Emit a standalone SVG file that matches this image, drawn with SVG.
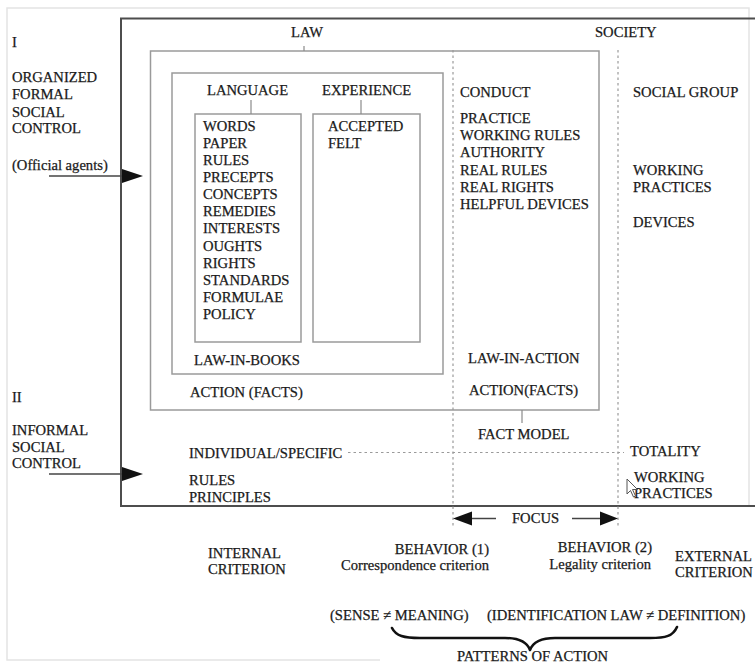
<svg xmlns="http://www.w3.org/2000/svg" width="755" height="664" viewBox="0 0 755 664">
  <defs>
    <style>
      text { font-family: "Liberation Serif", "Times New Roman", serif; font-size: 14.6px; fill: #1a1a1a; stroke: #1a1a1a; stroke-width: 0.25; }
      .mid { text-anchor: middle; }
      .end { text-anchor: end; }
      .frame { fill: none; stroke: #e4e4e4; stroke-width: 1.5; }
      .main { fill: none; stroke: #4d4d4d; stroke-width: 2; }
      .box { fill: none; stroke: #9a9a9a; stroke-width: 1.5; }
      .tick { stroke: #8a8a8a; stroke-width: 1.2; }
      .dot { fill: none; stroke: #9a9a9a; stroke-width: 1.2; stroke-dasharray: 2.5 3; }
      .line { stroke: #444; stroke-width: 1.5; }
      .head { fill: #111; }
    </style>
  </defs>

  <rect width="755" height="664" fill="#fff"/>

  <!-- page border -->
  <path class="frame" d="M749,505 V8 H7 V660 H380"/>

  <!-- social control frame -->
  <g id="control-frame">
    <path class="main" d="M755,18.5 H121 V506 H755"/>
  </g>

  <!-- LAW box -->
  <g id="law">
    <text class="mid" x="307" y="37">LAW</text>
    <rect class="box" x="150.5" y="51" width="448.5" height="359"/>
    <text x="190" y="397">ACTION (FACTS)</text>
  </g>

  <!-- law in books -->
  <g id="law-in-books">
    <rect class="box" x="172" y="73" width="271" height="301"/>
    <text x="194" y="365">LAW-IN-BOOKS</text>
  </g>

  <g id="language">
    <text x="207" y="95">LANGUAGE</text>
    <rect class="box" x="195" y="114" width="106" height="228"/>
    <text x="203" y="131">WORDS</text>
    <text x="203" y="148">PAPER</text>
    <text x="203" y="165">RULES</text>
    <text x="203" y="182">PRECEPTS</text>
    <text x="203" y="199">CONCEPTS</text>
    <text x="203" y="216">REMEDIES</text>
    <text x="203" y="233">INTERESTS</text>
    <text x="203" y="250.5">OUGHTS</text>
    <text x="203" y="267.5">RIGHTS</text>
    <text x="203" y="284.5">STANDARDS</text>
    <text x="203" y="301.5">FORMULAE</text>
    <text x="203" y="318.5">POLICY</text>
  </g>

  <g id="experience">
    <text x="322" y="95">EXPERIENCE</text>
    <rect class="box" x="313" y="114" width="107" height="228"/>
    <text x="328" y="131">ACCEPTED</text>
    <text x="328" y="148">FELT</text>
  </g>

  <!-- law in action column -->
  <g id="conduct">
    <text x="460" y="97">CONDUCT</text>
    <text x="460" y="123">PRACTICE</text>
    <text x="460" y="140">WORKING RULES</text>
    <text x="460" y="157">AUTHORITY</text>
    <text x="460" y="175">REAL RULES</text>
    <text x="460" y="192">REAL RIGHTS</text>
    <text x="460" y="209">HELPFUL DEVICES</text>
    <text x="468" y="363">LAW-IN-ACTION</text>
    <text x="469" y="395">ACTION(FACTS)</text>
    <text x="478" y="439">FACT MODEL</text>
  </g>

  <!-- society column -->
  <g id="society">
    <text x="595" y="37">SOCIETY</text>
    <text x="633" y="97">SOCIAL GROUP</text>
    <text x="633" y="175">WORKING</text>
    <text x="633" y="192">PRACTICES</text>
    <text x="633" y="227">DEVICES</text>
    <text x="630" y="456">TOTALITY</text>
    <text x="634" y="482">WORKING</text>
    <text x="634" y="498">PRACTICES</text>
  </g>

  <!-- informal level -->
  <g id="informal">
    <text x="189" y="458">INDIVIDUAL/SPECIFIC</text>
    <text x="189" y="485">RULES</text>
    <text x="189" y="502">PRINCIPLES</text>
  </g>

  <!-- left side labels -->
  <g id="formal-control">
    <text x="12" y="47">I</text>
    <text x="12" y="82">ORGANIZED</text>
    <text x="12" y="99">FORMAL</text>
    <text x="12" y="117">SOCIAL</text>
    <text x="12" y="133">CONTROL</text>
    <text x="12" y="170">(Official agents)</text>
  </g>
  <g id="informal-control">
    <text x="12" y="402">II</text>
    <text x="12" y="435">INFORMAL</text>
    <text x="12" y="452">SOCIAL</text>
    <text x="12" y="468">CONTROL</text>
  </g>

  <!-- criteria below the frame -->
  <g id="criteria">
    <text x="208" y="558">INTERNAL</text>
    <text x="208" y="574">CRITERION</text>
    <text class="end" x="489" y="554">BEHAVIOR (1)</text>
    <text class="end" x="489" y="570">Correspondence criterion</text>
    <text class="end" x="652" y="552">BEHAVIOR (2)</text>
    <text class="end" x="651" y="569">Legality criterion</text>
    <text x="675" y="561">EXTERNAL</text>
    <text x="675" y="577">CRITERION</text>
    <text x="330" y="620">(SENSE ≠ MEANING)</text>
    <text x="487" y="620">(IDENTIFICATION LAW ≠ DEFINITION)</text>
    <text x="457" y="661">PATTERNS OF ACTION</text>
    <text x="512" y="523">FOCUS</text>
  </g>

  <!-- connectors -->
  <g id="connectors">
    <!-- label ticks -->
    <line class="tick" x1="304" y1="46" x2="304" y2="51"/>
    <line class="tick" x1="251" y1="100" x2="251" y2="114"/>
    <line class="tick" x1="361" y1="100" x2="361" y2="114"/>
    <line class="tick" x1="522" y1="410" x2="522" y2="423"/>

    <!-- dotted column dividers -->
    <line class="dot" x1="453" y1="50" x2="453" y2="528"/>
    <line class="dot" x1="618" y1="50" x2="618" y2="528"/>
    <line class="dot" x1="348" y1="452.5" x2="624" y2="452.5"/>

    <!-- control arrows -->
    <line class="line" x1="49" y1="176" x2="124" y2="176"/>
    <polygon class="head" points="122,169 143,176 122,183"/>
    <line class="line" x1="49" y1="474" x2="124" y2="474"/>
    <polygon class="head" points="122,467 143,474 122,481"/>

    <!-- focus arrows -->
    <line class="line" x1="470" y1="518.5" x2="496" y2="518.5"/>
    <polygon class="head" points="453,518.5 472,511.5 472,525.5"/>
    <line class="line" x1="572" y1="518.5" x2="602" y2="518.5"/>
    <polygon class="head" points="618,518.5 600,511.5 600,525.5"/>

    <!-- brace -->
    <path d="M392,628 C396,636 404,638 420,638 L505,638 C520,638 527,642 530,650 C533,642 540,638 555,638 L650,638 C666,638 673,636 677,627" fill="none" stroke="#111" stroke-width="2.6" stroke-linecap="round" stroke-linejoin="round"/>
  </g>

  <!-- pointer -->
  <polygon points="627,479 627,494 630.5,490.5 633.5,497 635.5,496 632.5,489.5 637.5,489.5" fill="#fff" stroke="#555" stroke-width="1"/>
</svg>
